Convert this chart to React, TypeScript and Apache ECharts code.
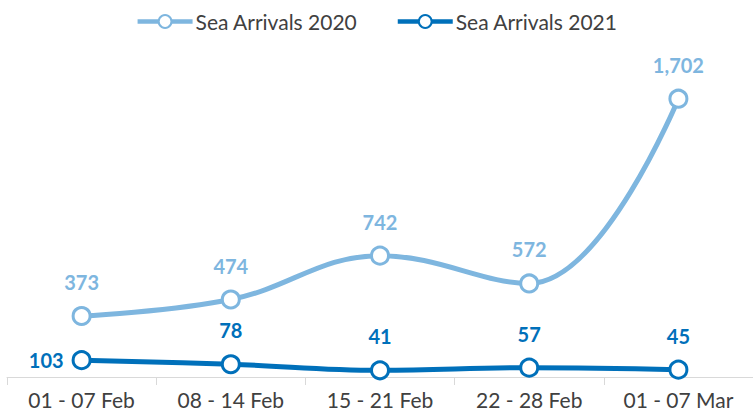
import React, { useEffect, useRef } from "react";
import * as echarts from "echarts";

const categories = ["01 - 07 Feb", "08 - 14 Feb", "15 - 21 Feb", "22 - 28 Feb", "01 - 07 Mar"];
const arrivals2020 = [373, 474, 742, 572, 1702];
const arrivals2021 = [103, 78, 41, 57, 45];

const C2020 = "#7EB6DF";
const C2021 = "#0070BA";

export default function App() {
  const ref = useRef<HTMLDivElement>(null);
  useEffect(() => {
    const chart = echarts.init(ref.current!, null, { renderer: "svg" });
    const fmt = (p: any) => Number(p.value).toLocaleString("en-US");
    chart.setOption({
      animation: false,
      textStyle: { fontFamily: "Lato" },
      legend: {
        top: 6,
        left: "center",
        itemWidth: 55,
        itemHeight: 16,
        itemGap: 38,
        lineStyle: { width: 4.5 },
        textStyle: { fontSize: 21, color: "#404040", fontFamily: "Lato", padding: [0, 0, 0, -2] },
        data: ["Sea Arrivals 2020", "Sea Arrivals 2021"],
      },
      grid: { left: 7, right: -2, top: 50, bottom: 39, containLabel: false },
      xAxis: {
        type: "category",
        data: categories,
        boundaryGap: true,
        axisLine: { lineStyle: { color: "#D9D9D9", width: 1 } },
        axisTick: { show: true, length: 8, lineStyle: { color: "#D9D9D9" } },
        axisLabel: { fontSize: 21, color: "#404040", margin: 12, fontFamily: "Lato" },
      },
      yAxis: {
        type: "value",
        min: 0,
        max: 2000,
        show: false,
        splitLine: { show: false },
      },
      series: [
        {
          name: "Sea Arrivals 2020",
          type: "line",
          data: arrivals2020,
          smooth: 0.4,
          symbol: "circle",
          symbolSize: 17,
          itemStyle: { color: "#fff", borderColor: C2020, borderWidth: 3 },
          lineStyle: { color: C2020, width: 5 },
          label: {
            show: true,
            position: "top",
            distance: 14,
            formatter: fmt,
            color: C2020,
            fontSize: 20,
            fontWeight: "bold",
            fontFamily: "Lato",
          },
        },
        {
          name: "Sea Arrivals 2021",
          type: "line",
          data: arrivals2021.map((v, i) =>
            i === 0 ? { value: v, label: { position: "left", distance: 8 } } : v
          ),
          smooth: 0.4,
          symbol: "circle",
          symbolSize: 17,
          itemStyle: { color: "#fff", borderColor: C2021, borderWidth: 3 },
          lineStyle: { color: C2021, width: 5 },
          label: {
            show: true,
            position: "top",
            distance: 14,
            formatter: fmt,
            color: C2021,
            fontSize: 20,
            fontWeight: "bold",
            fontFamily: "Lato",
          },
        },
      ],
    });
    return () => chart.dispose();
  }, []);
  return (
    <div
      ref={ref}
      style={{ position: "absolute", left: 0, top: 0, width: 753, height: 416 }}
    />
  );
}
